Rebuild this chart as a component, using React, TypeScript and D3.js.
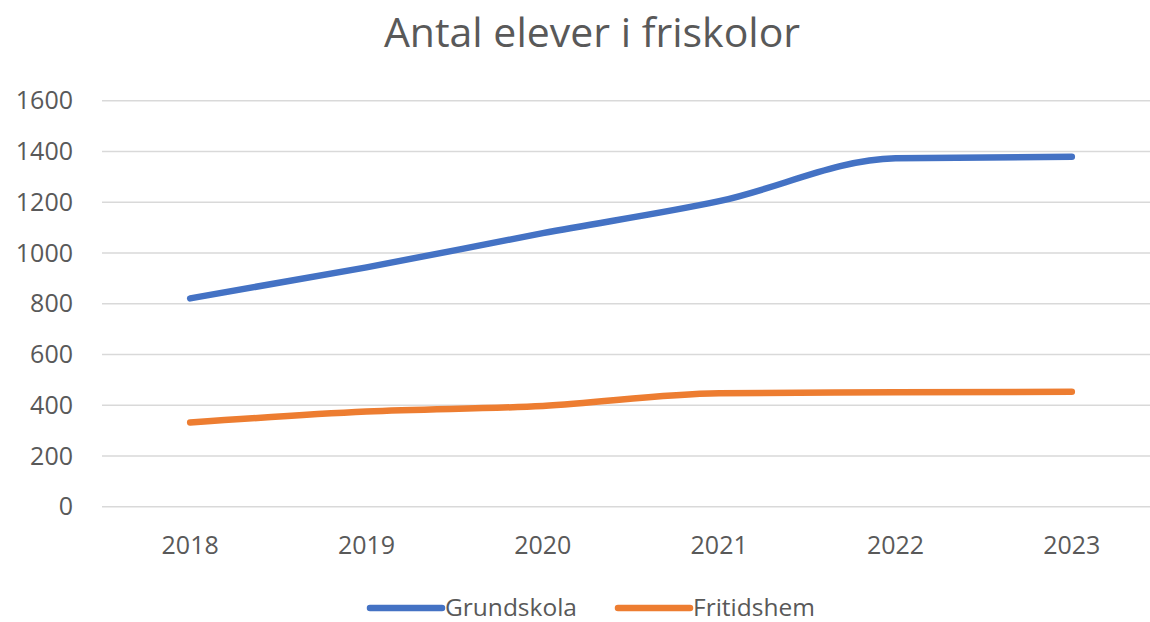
import React from 'react';
import * as d3 from 'd3';

const years = ['2018', '2019', '2020', '2021', '2022', '2023'];
const grundskola = [821, 943, 1078, 1204, 1373, 1379];
const fritidshem = [332, 375, 397, 447, 451, 453];
const yTicks = [0, 200, 400, 600, 800, 1000, 1200, 1400, 1600];

const series = [
  { name: 'Grundskola', values: grundskola, color: '#4472C4' },
  { name: 'Fritidshem', values: fritidshem, color: '#ED7D31' },
];

const W = 1150;
const H = 622;
const FONT = '"Open Sans", "DejaVu Sans", sans-serif';
const TEXT = '#595959';

export default function App() {
  const x = d3.scaleBand().domain(years).range([102, 1160]);
  const y = d3.scaleLinear().domain([0, 1600]).range([506.7, 100.7]);

  const line = d3
    .line<number>()
    .x((_, i) => x(years[i])! + x.bandwidth() / 2)
    .y((d) => y(d))
    .curve(d3.curveMonotoneX);

  // legend layout
  const legend = [
    { lx: 370, tx: 445 },
    { lx: 618, tx: 693 },
  ];

  return (
    <svg
      width={W}
      height={H}
      style={{ position: 'absolute', left: 0, top: 0, background: '#fff' }}
      fontFamily={FONT}
    >
      <text x={592} y={47} textAnchor="middle" fontSize={41} fill={TEXT}>
        Antal elever i friskolor
      </text>

      {/* gridlines */}
      {yTicks.map((t) => (
        <line key={t} x1={102} x2={W} y1={y(t)} y2={y(t)} stroke="#d9d9d9" strokeWidth={1.5} />
      ))}

      {/* y labels */}
      {yTicks.map((t) => (
        <text key={t} x={73} y={y(t)} dy="0.35em" textAnchor="end" fontSize={25} fill={TEXT}>
          {t}
        </text>
      ))}

      {/* x labels */}
      {years.map((yr) => (
        <text
          key={yr}
          x={x(yr)! + x.bandwidth() / 2}
          y={545}
          dy="0.35em"
          textAnchor="middle"
          fontSize={25}
          fill={TEXT}
        >
          {yr}
        </text>
      ))}

      {/* lines */}
      {series.map((s) => (
        <path
          key={s.name}
          d={line(s.values)!}
          fill="none"
          stroke={s.color}
          strokeWidth={6.5}
          strokeLinecap="round"
          strokeLinejoin="round"
        />
      ))}

      {/* legend */}
      {series.map((s, i) => (
        <g key={s.name}>
          <line
            x1={legend[i].lx}
            x2={legend[i].lx + 72}
            y1={608}
            y2={608}
            stroke={s.color}
            strokeWidth={6.5}
            strokeLinecap="round"
          />
          <text x={legend[i].tx} y={616} fontSize={24.5} fill={TEXT}>
            {s.name}
          </text>
        </g>
      ))}
    </svg>
  );
}
